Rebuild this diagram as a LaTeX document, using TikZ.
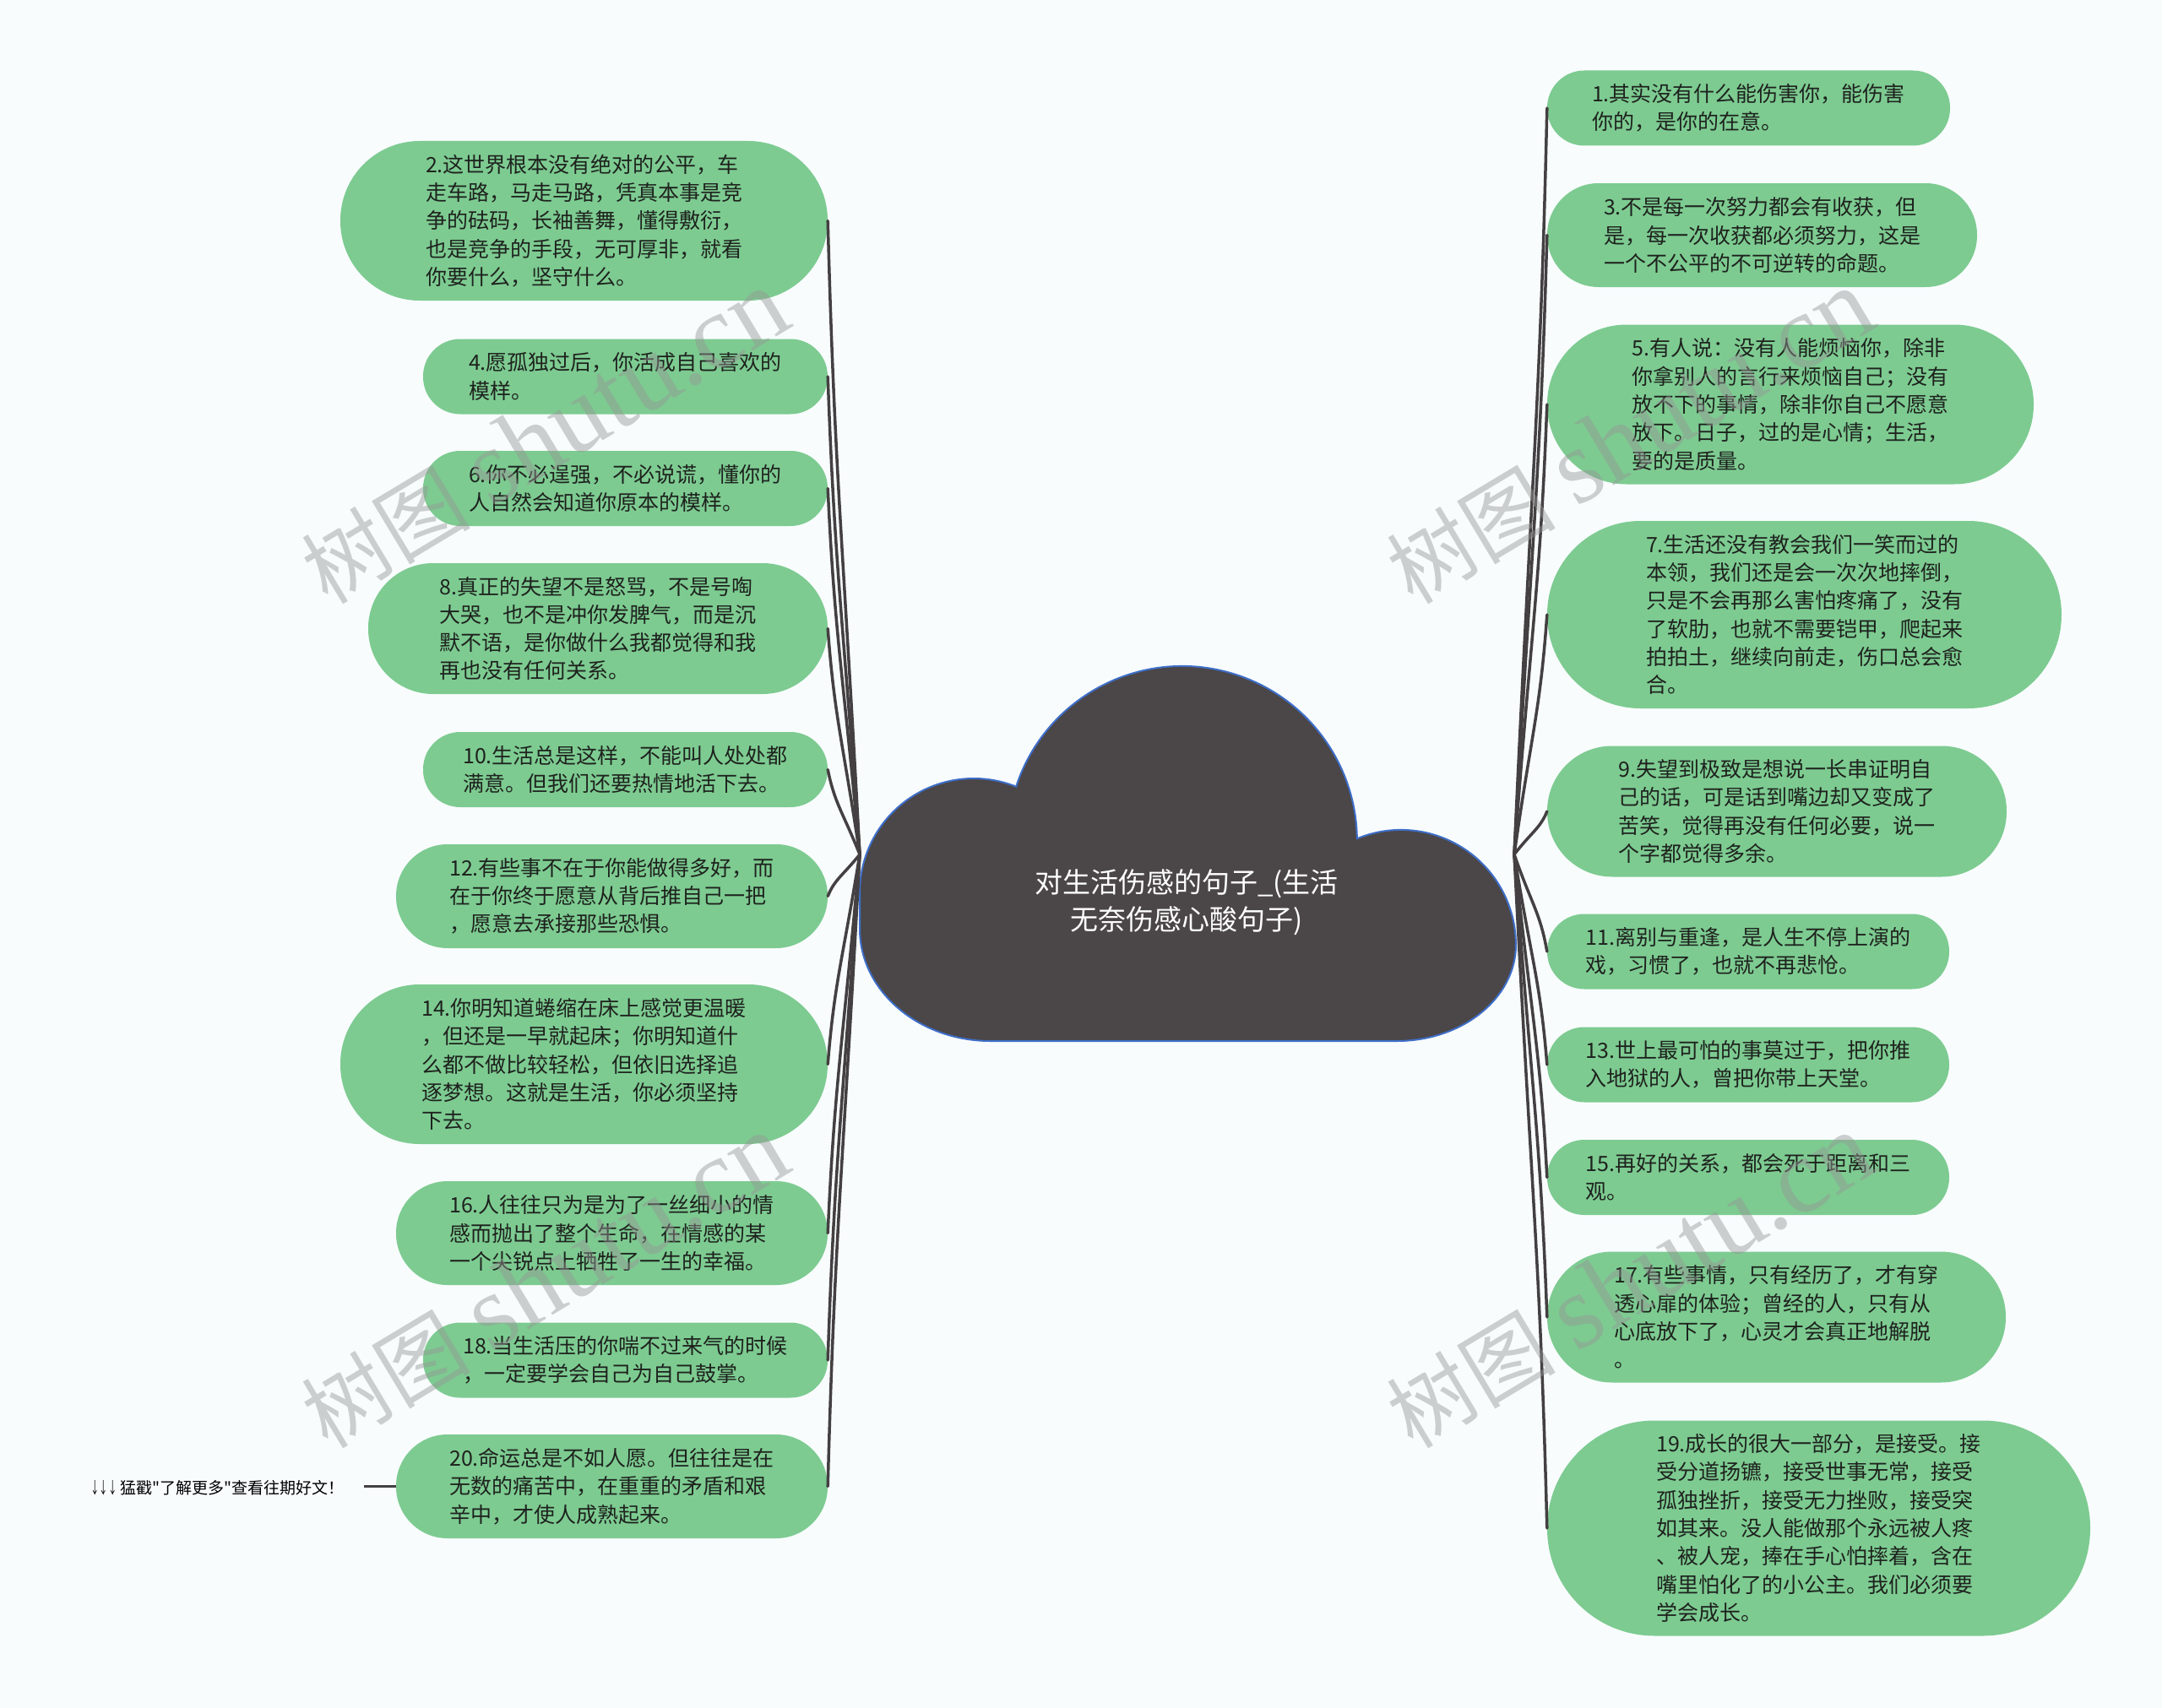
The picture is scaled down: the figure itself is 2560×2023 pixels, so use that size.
\documentclass[tikz,border=0pt]{standalone}
\usepackage{fontspec}
\setmainfont{Noto Sans CJK SC}
\newfontfamily\wmserif{Liberation Serif}
\newcommand\straightquote{\XeTeXglyph\XeTeXcharglyph"22\relax}
\definecolor{bgcol}{RGB}{248,252,253}
\definecolor{leafgreen}{RGB}{125,203,145}
\definecolor{leaftext}{RGB}{30,34,30}
\definecolor{cloudfill}{RGB}{75,70,71}
\definecolor{cloudline}{RGB}{62,110,200}
\definecolor{conncol}{RGB}{68,64,65}
\definecolor{wmgray}{RGB}{150,150,150}
\begin{document}
\begin{tikzpicture}[x=1pt,y=1pt,
  leaf/.style n args={2}{shape=rectangle, fill=leafgreen, minimum width=#1, minimum height=#2,
     rounded corners=0.5*#2-0.5pt, inner sep=0pt, align=left, text=leaftext,
     font=\fontsize{25pt}{33.3pt}\selectfont},
  conn/.style={draw=conncol, line width=3.5pt, line cap=round},
  cloudtext/.style={text=white, align=center, font=\fontsize{33pt}{44pt}\selectfont},
  linktext/.style={text=black, font=\fontsize{19pt}{22pt}\selectfont, inner sep=0pt},
  wm/.style={text=wmgray, opacity=0.45, text opacity=0.45, inner sep=0pt, font=\fontsize{100pt}{110pt}\selectfont}
]
\useasboundingbox (0,0) rectangle (2560,-2023);
\fill[bgcol] (0,0) rectangle (2560,-2023);

% central cloud
\filldraw[fill=cloudfill, draw=cloudline, line width=2pt]
  (1018,-1100) -- (1018,-1057)
  arc[start angle=180, end angle=68.2, radius=135]
  arc[start angle=161.9, end angle=0.75, radius=207]
  arc[start angle=112.5, end angle=0, radius=136]
  -- (1795,-1119)
  arc[start angle=0, end angle=-90, x radius=141, y radius=114]
  -- (1173,-1233)
  arc[start angle=270, end angle=180, x radius=155, y radius=133]
  -- cycle;
\node[cloudtext] (center) at (1405,-1069) {对生活伤感的句子\_(生活\\无奈伤感心酸句子)};
\coordinate (lroot) at (1018,-1012);
\coordinate (rroot) at (1793,-1012);

% left nodes
\node[leaf={577pt}{189pt}] (n2) at (691.5,-261.5) {2.这世界根本没有绝对的公平，车\\走车路，马走马路，凭真本事是竞\\争的砝码，长袖善舞，懂得敷衍，\\也是竞争的手段，无可厚非，就看\\你要什么，坚守什么。};
\node[leaf={479pt}{89pt}] (n4) at (740.5,-446) {4.愿孤独过后，你活成自己喜欢的\\模样。};
\node[leaf={479pt}{89pt}] (n6) at (740.5,-578.5) {6.你不必逞强，不必说谎，懂你的\\人自然会知道你原本的模样。};
\node[leaf={544pt}{155pt}] (n8) at (708,-744.5) {8.真正的失望不是怒骂，不是号啕\\大哭，也不是冲你发脾气，而是沉\\默不语，是你做什么我都觉得和我\\再也没有任何关系。};
\node[leaf={479pt}{89pt}] (n10) at (740.5,-911.5) {10.生活总是这样，不能叫人处处都\\满意。但我们还要热情地活下去。};
\node[leaf={511pt}{123pt}] (n12) at (724.5,-1061.5) {12.有些事不在于你能做得多好，而\\在于你终于愿意从背后推自己一把\\，愿意去承接那些恐惧。};
\node[leaf={577pt}{189pt}] (n14) at (691.5,-1260.5) {14.你明知道蜷缩在床上感觉更温暖\\，但还是一早就起床；你明知道什\\么都不做比较轻松，但依旧选择追\\逐梦想。这就是生活，你必须坚持\\下去。};
\node[leaf={511pt}{123pt}] (n16) at (724.5,-1460.5) {16.人往往只为是为了一丝细小的情\\感而抛出了整个生命，在情感的某\\一个尖锐点上牺牲了一生的幸福。};
\node[leaf={479pt}{89pt}] (n18) at (740.5,-1611) {18.当生活压的你喘不过来气的时候\\，一定要学会自己为自己鼓掌。};
\node[leaf={511pt}{123pt}] (n20) at (724.5,-1760.5) {20.命运总是不如人愿。但往往是在\\无数的痛苦中，在重重的矛盾和艰\\辛中，才使人成熟起来。};

% right nodes
\node[leaf={477pt}{89pt}] (n1) at (2070.5,-128) {1.其实没有什么能伤害你，能伤害\\你的，是你的在意。};
\node[leaf={509pt}{123pt}] (n3) at (2086.5,-278.5) {3.不是每一次努力都会有收获，但\\是，每一次收获都必须努力，这是\\一个不公平的不可逆转的命题。};
\node[leaf={576pt}{189pt}] (n5) at (2120,-479) {5.有人说：没有人能烦恼你，除非\\你拿别人的言行来烦恼自己；没有\\放不下的事情，除非你自己不愿意\\放下。日子，过的是心情；生活，\\要的是质量。};
\node[leaf={609pt}{222pt}] (n7) at (2136.5,-728) {7.生活还没有教会我们一笑而过的\\本领，我们还是会一次次地摔倒，\\只是不会再那么害怕疼痛了，没有\\了软肋，也就不需要铠甲，爬起来\\拍拍土，继续向前走，伤口总会愈\\合。};
\node[leaf={544pt}{155pt}] (n9) at (2104,-961) {9.失望到极致是想说一长串证明自\\己的话，可是话到嘴边却又变成了\\苦笑，觉得再没有任何必要，说一\\个字都觉得多余。};
\node[leaf={476pt}{89pt}] (n11) at (2070,-1127) {11.离别与重逢，是人生不停上演的\\戏，习惯了，也就不再悲怆。};
\node[leaf={476pt}{89pt}] (n13) at (2070,-1261) {13.世上最可怕的事莫过于，把你推\\入地狱的人，曾把你带上天堂。};
\node[leaf={476pt}{89pt}] (n15) at (2070,-1394.5) {15.再好的关系，都会死于距离和三\\观。};
\node[leaf={543pt}{155pt}] (n17) at (2103.5,-1560) {17.有些事情，只有经历了，才有穿\\透心扉的体验；曾经的人，只有从\\心底放下了，心灵才会真正地解脱\\。};
\node[leaf={643pt}{255pt}] (n19) at (2153.5,-1810) {19.成长的很大一部分，是接受。接\\受分道扬镳，接受世事无常，接受\\孤独挫折，接受无力挫败，接受突\\如其来。没人能做那个永远被人疼\\、被人宠，捧在手心怕摔着，含在\\嘴里怕化了的小公主。我们必须要\\学会成长。};

% extra link text
\node[linktext, anchor=east] (more) at (408,-1762) {\scalebox{0.55}[1]{↓↓↓}\hspace{4pt}猛戳\straightquote 了解更多\straightquote 查看往期好文！};
\coordinate (morelink) at (431,-1760.5);
\draw[conncol, line width=3pt] (morelink) -- (n20.west);

% connectors left
\draw[conn] (lroot) .. controls +(-20,375) and +(8,-300) .. (n2.east);
\draw[conn] (lroot) .. controls +(-20,283) and +(8,-226) .. (n4.east);
\draw[conn] (lroot) .. controls +(-20,217) and +(8,-173) .. (n6.east);
\draw[conn] (lroot) .. controls +(-20,134) and +(8,-107) .. (n8.east);
\draw[conn] (lroot) .. controls +(-20,50) and +(8,-40) .. (n10.east);
\draw[conn] (lroot) .. controls +(-20,-25) and +(8,20) .. (n12.east);
\draw[conn] (lroot) .. controls +(-20,-124) and +(8,99) .. (n14.east);
\draw[conn] (lroot) .. controls +(-20,-224) and +(8,179) .. (n16.east);
\draw[conn] (lroot) .. controls +(-20,-300) and +(8,240) .. (n18.east);
\draw[conn] (lroot) .. controls +(-20,-374) and +(8,299) .. (n20.east);

% connectors right
\draw[conn] (rroot) .. controls +(20,442) and +(-8,-354) .. (n1.west);
\draw[conn] (rroot) .. controls +(20,367) and +(-8,-293) .. (n3.west);
\draw[conn] (rroot) .. controls +(20,267) and +(-8,-213) .. (n5.west);
\draw[conn] (rroot) .. controls +(20,142) and +(-8,-114) .. (n7.west);
\draw[conn] (rroot) .. controls +(20,26) and +(-8,-20) .. (n9.west);
\draw[conn] (rroot) .. controls +(20,-58) and +(-8,46) .. (n11.west);
\draw[conn] (rroot) .. controls +(20,-125) and +(-8,100) .. (n13.west);
\draw[conn] (rroot) .. controls +(20,-191) and +(-8,153) .. (n15.west);
\draw[conn] (rroot) .. controls +(20,-274) and +(-8,219) .. (n17.west);
\draw[conn] (rroot) .. controls +(20,-399) and +(-8,319) .. (n19.west);

% watermarks
\node[wm, rotate=31] (wm1) at (645,-518) {树图\hspace{25pt}{\wmserif\fontsize{125pt}{130pt}\selectfont shutu.cn}};
\node[wm, rotate=31] (wm2) at (1930,-518) {树图\hspace{25pt}{\wmserif\fontsize{125pt}{130pt}\selectfont shutu.cn}};
\node[wm, rotate=31] (wm3) at (645,-1518) {树图\hspace{25pt}{\wmserif\fontsize{125pt}{130pt}\selectfont shutu.cn}};
\node[wm, rotate=31] (wm4) at (1930,-1518) {树图\hspace{25pt}{\wmserif\fontsize{125pt}{130pt}\selectfont shutu.cn}};
\end{tikzpicture}
\end{document}
